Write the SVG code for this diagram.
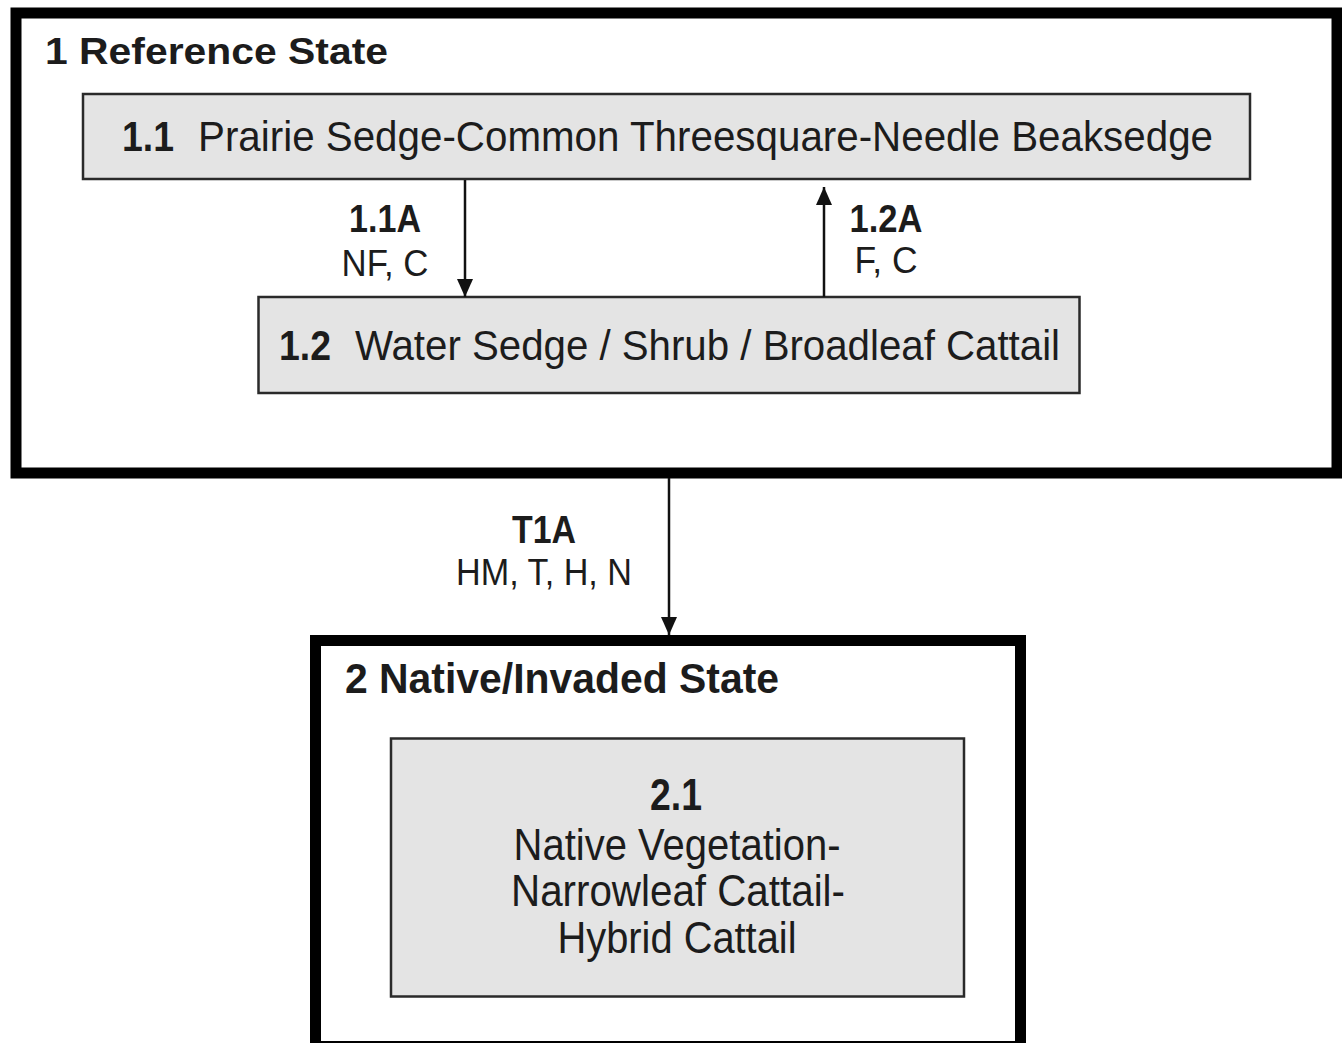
<svg xmlns="http://www.w3.org/2000/svg" width="1342" height="1043" viewBox="0 0 1342 1043">
<style>
text{font-family:"Liberation Sans",Arial,sans-serif;fill:#1c1c1c}
.b{font-weight:bold}
.state{fill:#fff;stroke:#000;stroke-width:11}
.phase{fill:#e4e4e4;stroke:#2a2a2a;stroke-width:2.5}
.con{stroke:#111;stroke-width:2.5;fill:none}
.lbl{text-anchor:middle}
</style>
<defs>
<marker id="ah" markerUnits="userSpaceOnUse" markerWidth="18" markerHeight="20" refX="18" refY="8" orient="auto">
<path d="M0,0 L18,8 L0,16 Z" fill="#111"/>
</marker>
</defs>
<rect width="1342" height="1043" fill="#fff"/>
<g id="state1">
<rect class="state" x="16" y="13" width="1321" height="460"/>
<text class="b" x="45" y="64" font-size="37" textLength="343" lengthAdjust="spacingAndGlyphs">1 Reference State</text>
</g>
<g id="phase1_1">
<rect class="phase" x="83" y="94" width="1167" height="85"/>
<text class="b" x="122" y="151" font-size="42" textLength="52" lengthAdjust="spacingAndGlyphs">1.1</text>
<text x="198" y="151" font-size="42" textLength="1015" lengthAdjust="spacingAndGlyphs">Prairie Sedge-Common Threesquare-Needle Beaksedge</text>
</g>
<g id="phase1_2">
<rect class="phase" x="258.5" y="297" width="821" height="96"/>
<text class="b" x="279" y="360" font-size="42" textLength="52" lengthAdjust="spacingAndGlyphs">1.2</text>
<text x="355" y="360" font-size="42" textLength="705" lengthAdjust="spacingAndGlyphs">Water Sedge / Shrub / Broadleaf Cattail</text>
</g>
<g id="state2">
<rect class="state" x="315.5" y="640.5" width="705" height="406"/>
<text class="b" x="345" y="693" font-size="43" textLength="434" lengthAdjust="spacingAndGlyphs">2 Native/Invaded State</text>
</g>
<g id="phase2_1">
<rect class="phase" x="391" y="738.5" width="573" height="258"/>
<text class="b lbl" x="676" y="810" font-size="44" textLength="52" lengthAdjust="spacingAndGlyphs">2.1</text>
<text class="lbl" x="677" y="860" font-size="44" textLength="327" lengthAdjust="spacingAndGlyphs">Native Vegetation-</text>
<text class="lbl" x="678" y="906" font-size="44" textLength="334" lengthAdjust="spacingAndGlyphs">Narrowleaf Cattail-</text>
<text class="lbl" x="677" y="953" font-size="44" textLength="239" lengthAdjust="spacingAndGlyphs">Hybrid Cattail</text>
</g>
<g id="connectors">
<line class="con" x1="465" y1="180" x2="465" y2="297" marker-end="url(#ah)"/>
<line class="con" x1="824" y1="297" x2="824" y2="187" marker-end="url(#ah)"/>
<line class="con" x1="669" y1="478" x2="669" y2="635" marker-end="url(#ah)"/>
<text class="b lbl" x="385" y="232" font-size="38" textLength="72" lengthAdjust="spacingAndGlyphs">1.1A</text>
<text class="lbl" x="385" y="276" font-size="36" textLength="87" lengthAdjust="spacingAndGlyphs">NF, C</text>
<text class="b lbl" x="886" y="232" font-size="38" textLength="73" lengthAdjust="spacingAndGlyphs">1.2A</text>
<text class="lbl" x="886" y="273" font-size="36" textLength="63" lengthAdjust="spacingAndGlyphs">F, C</text>
<text class="b lbl" x="544" y="543" font-size="38" textLength="64" lengthAdjust="spacingAndGlyphs">T1A</text>
<text class="lbl" x="544" y="585" font-size="36" textLength="176" lengthAdjust="spacingAndGlyphs">HM, T, H, N</text>
</g>
</svg>
